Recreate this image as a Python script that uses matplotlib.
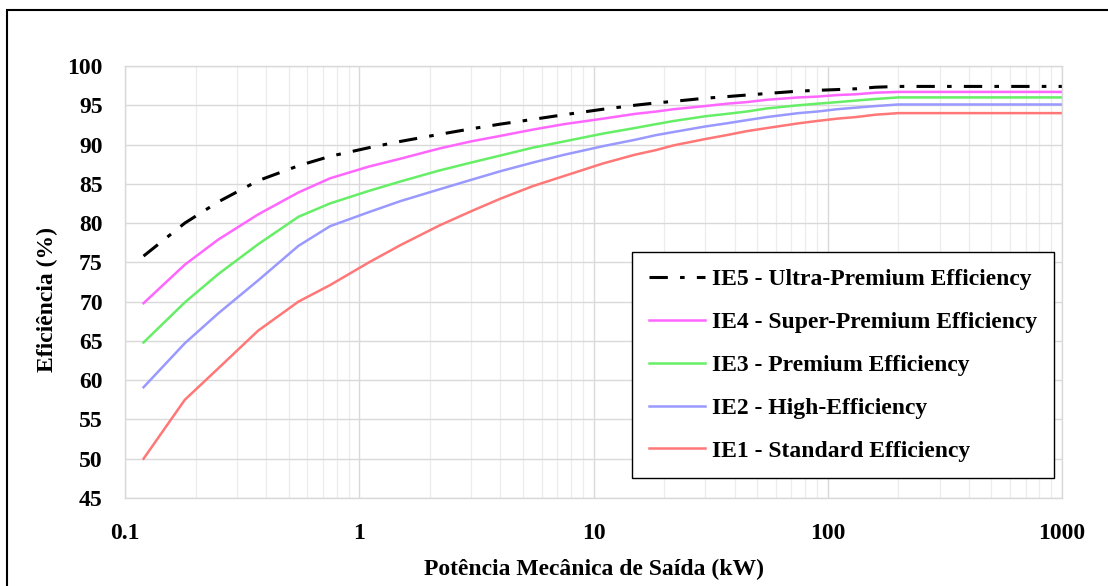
import numpy as np
import matplotlib.pyplot as plt
from matplotlib.patches import Rectangle
from matplotlib.ticker import FixedLocator, NullFormatter

plt.rcParams['font.family'] = ['Liberation Serif', 'DejaVu Serif']
plt.rcParams['font.weight'] = 'bold'

# potencia nominal (kW)
kw = [0.12, 0.18, 0.25, 0.37, 0.55, 0.75, 1.1, 1.5, 2.2, 3, 4, 5.5, 7.5,
      11, 15, 18.5, 22, 30, 37, 45, 55, 75, 90, 110, 132, 160, 200, 1000]

ie1 = [50.0, 57.5, 61.5, 66.3, 70.0, 72.1, 75.0, 77.2, 79.7, 81.5, 83.1, 84.7, 86.0,
       87.6, 88.7, 89.3, 89.9, 90.7, 91.2, 91.7, 92.1, 92.7, 93.0, 93.3, 93.5, 93.8, 94.0, 94.0]
ie2 = [59.1, 64.7, 68.5, 72.7, 77.1, 79.6, 81.4, 82.8, 84.3, 85.5, 86.6, 87.7, 88.7,
       89.8, 90.6, 91.2, 91.6, 92.3, 92.7, 93.1, 93.5, 94.0, 94.2, 94.5, 94.7, 94.9, 95.1, 95.1]
ie3 = [64.8, 69.9, 73.5, 77.3, 80.8, 82.5, 84.1, 85.3, 86.7, 87.7, 88.6, 89.6, 90.4,
       91.4, 92.1, 92.6, 93.0, 93.6, 93.9, 94.2, 94.6, 95.0, 95.2, 95.4, 95.6, 95.8, 96.0, 96.0]
ie4 = [69.8, 74.7, 77.9, 81.1, 83.9, 85.7, 87.2, 88.2, 89.5, 90.4, 91.1, 91.9, 92.6,
       93.3, 93.9, 94.2, 94.5, 94.9, 95.2, 95.4, 95.7, 96.0, 96.1, 96.3, 96.4, 96.6, 96.7, 96.7]
ie5 = [75.8, 80.0, 82.7, 85.4, 87.3, 88.5, 89.6, 90.4, 91.3, 92.0, 92.6, 93.2, 93.8,
       94.5, 95.0, 95.3, 95.5, 95.9, 96.1, 96.3, 96.5, 96.8, 96.9, 97.0, 97.1, 97.3, 97.4, 97.4]

labels = ['IE5 - Ultra-Premium Efficiency', 'IE4 - Super-Premium Efficiency',
          'IE3 - Premium Efficiency', 'IE2 - High-Efficiency', 'IE1 - Standard Efficiency']

fig = plt.figure(figsize=(11.08, 5.86), dpi=100)
ax = fig.add_axes([125/1108, 1-498/586, (1062-125)/1108, (498-66)/586])

ax.plot(kw, ie5, color='black', lw=2.2, dashes=(6, 4, 1.5, 4), label=labels[0])
ax.plot(kw, ie4, color='#ff66ff', lw=1.8, label=labels[1])
ax.plot(kw, ie3, color='#66ee66', lw=1.8, label=labels[2])
ax.plot(kw, ie2, color='#9999ff', lw=1.8, label=labels[3])
ax.plot(kw, ie1, color='#ff7777', lw=1.8, label=labels[4])

ax.set_xscale('log')
ax.set_xlim(0.1, 1000)
ax.set_ylim(45, 100)
ax.set_yticks(np.arange(45, 101, 5))
ax.set_xticks([0.1, 1, 10, 100, 1000])
ax.set_xticklabels(['0.1', '1', '10', '100', '1000'])
minors = [m * 10.0**d for d in range(-1, 3) for m in range(2, 10)]
ax.xaxis.set_minor_locator(FixedLocator(minors))
ax.xaxis.set_minor_formatter(NullFormatter())

ax.grid(True, which='major', color='#d9d9d9', lw=1.0)
ax.grid(True, which='minor', axis='x', color='#ececec', lw=0.9)
ax.set_axisbelow(True)
for s in ax.spines.values():
    s.set_color('#d9d9d9')
    s.set_linewidth(1.0)
ax.tick_params(which='both', length=0, labelsize=17)
ax.tick_params(axis='y', pad=16)
ax.tick_params(axis='x', pad=18)

ax.set_xlabel('Potência Mecânica de Saída (kW)', fontsize=17, fontweight='bold', labelpad=11)
ax.set_ylabel('Eficiência (%)', fontsize=17, fontweight='bold')
ax.yaxis.set_label_coords(-0.072, 0.46)

leg = ax.legend(loc='lower right', bbox_to_anchor=(0.9915, 0.046), fontsize=17,
                fancybox=False, framealpha=1, edgecolor='black',
                handlelength=2.4, handletextpad=0.3, labelspacing=0.9,
                borderpad=0.7, borderaxespad=0)
leg.get_frame().set_linewidth(1.0)

fig.patches.append(Rectangle((7/1108, -0.1), 1.2, 1-10/586+0.1, transform=fig.transFigure,
                             fill=False, edgecolor='black', lw=1.5))

fig.savefig('out.png', dpi=100)
